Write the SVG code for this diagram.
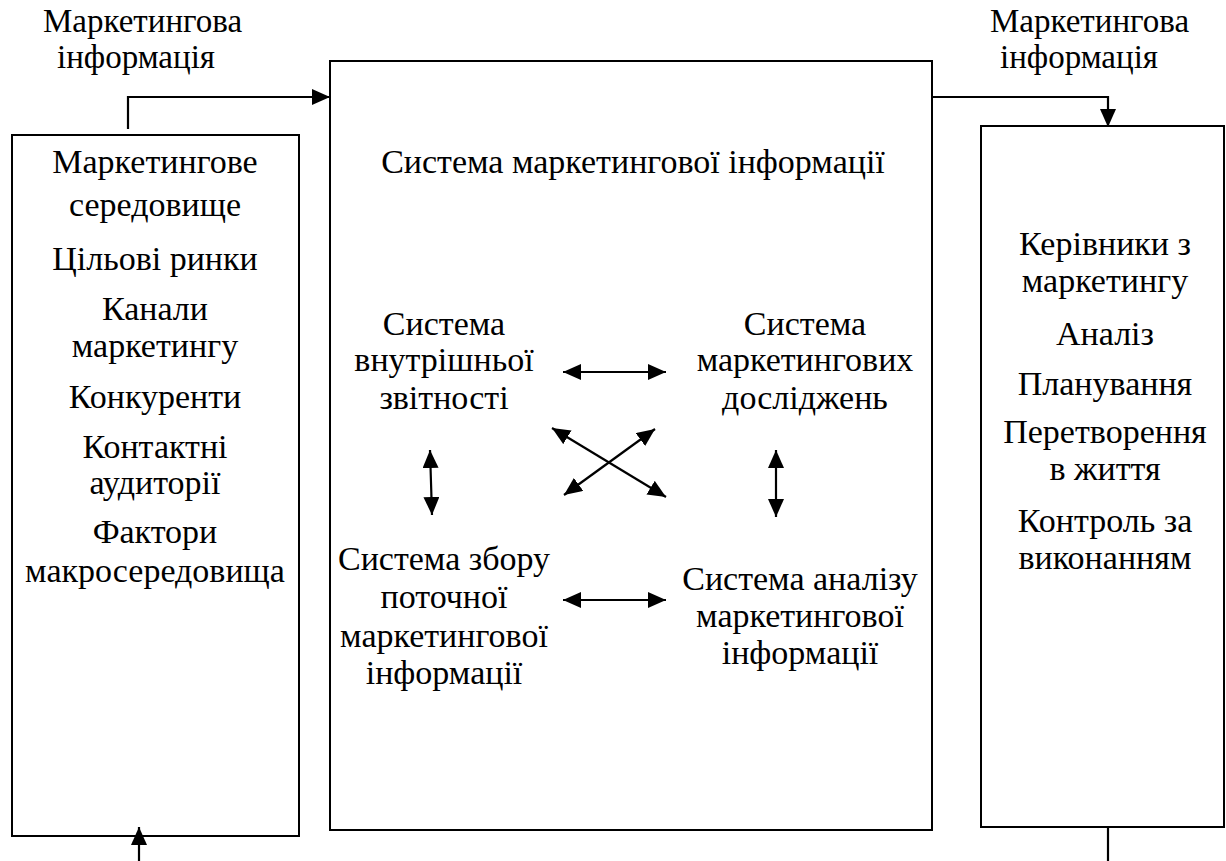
<svg xmlns="http://www.w3.org/2000/svg" width="1226" height="861" viewBox="0 0 1226 861">
<defs>
<marker id="ah" viewBox="0 0 18 16" refX="18" refY="8" markerWidth="18" markerHeight="16" markerUnits="userSpaceOnUse" orient="auto-start-reverse">
<path d="M0,0 L18,8 L0,16 Z" fill="#000"/>
</marker>
</defs>
<rect width="1226" height="861" fill="#fff"/>

<g id="label-left">
<text style="font-family:'Liberation Serif',serif" font-size="33" x="43" y="32">Маркетингова</text>
<text style="font-family:'Liberation Serif',serif" font-size="33" x="57" y="68">інформація</text>
</g>
<g id="label-right">
<text style="font-family:'Liberation Serif',serif" font-size="33" x="990" y="32">Маркетингова</text>
<text style="font-family:'Liberation Serif',serif" font-size="33" x="1000" y="68">інформація</text>
</g>

<g id="environment">
<rect x="12" y="135" width="287" height="701" fill="none" stroke="#000" stroke-width="2"/>
<text style="font-family:'Liberation Serif',serif" font-size="34" text-anchor="middle" x="155" y="173">Маркетингове</text>
<text style="font-family:'Liberation Serif',serif" font-size="34" text-anchor="middle" x="155" y="216">середовище</text>
<text style="font-family:'Liberation Serif',serif" font-size="34" text-anchor="middle" x="155" y="270">Цільові ринки</text>
<text style="font-family:'Liberation Serif',serif" font-size="34" text-anchor="middle" x="155" y="320">Канали</text>
<text style="font-family:'Liberation Serif',serif" font-size="34" text-anchor="middle" x="155" y="357">маркетингу</text>
<text style="font-family:'Liberation Serif',serif" font-size="34" text-anchor="middle" x="155" y="408">Конкуренти</text>
<text style="font-family:'Liberation Serif',serif" font-size="34" text-anchor="middle" x="155" y="458">Контактні</text>
<text style="font-family:'Liberation Serif',serif" font-size="34" text-anchor="middle" x="155" y="494">аудиторії</text>
<text style="font-family:'Liberation Serif',serif" font-size="34" text-anchor="middle" x="155" y="543">Фактори</text>
<text style="font-family:'Liberation Serif',serif" font-size="34" text-anchor="middle" x="155" y="582">макросередовища</text>
</g>

<g id="mis">
<rect x="330" y="61" width="602" height="769" fill="none" stroke="#000" stroke-width="2"/>
<text style="font-family:'Liberation Serif',serif" font-size="34" text-anchor="middle" x="633" y="173">Система маркетингової інформації</text>
</g>

<g id="internal">
<text style="font-family:'Liberation Serif',serif" font-size="34" text-anchor="middle" x="444" y="335">Система</text>
<text style="font-family:'Liberation Serif',serif" font-size="34" text-anchor="middle" x="444" y="371">внутрішньої</text>
<text style="font-family:'Liberation Serif',serif" font-size="34" text-anchor="middle" x="444" y="409">звітності</text>
</g>
<g id="research">
<text style="font-family:'Liberation Serif',serif" font-size="34" text-anchor="middle" x="805" y="335">Система</text>
<text style="font-family:'Liberation Serif',serif" font-size="34" text-anchor="middle" x="805" y="371">маркетингових</text>
<text style="font-family:'Liberation Serif',serif" font-size="34" text-anchor="middle" x="805" y="409">досліджень</text>
</g>
<g id="collection">
<text style="font-family:'Liberation Serif',serif" font-size="34" text-anchor="middle" x="444" y="570">Система збору</text>
<text style="font-family:'Liberation Serif',serif" font-size="34" text-anchor="middle" x="444" y="608">поточної</text>
<text style="font-family:'Liberation Serif',serif" font-size="34" text-anchor="middle" x="444" y="647">маркетингової</text>
<text style="font-family:'Liberation Serif',serif" font-size="34" text-anchor="middle" x="444" y="684">інформації</text>
</g>
<g id="analysis">
<text style="font-family:'Liberation Serif',serif" font-size="34" text-anchor="middle" x="800" y="590">Система аналізу</text>
<text style="font-family:'Liberation Serif',serif" font-size="34" text-anchor="middle" x="800" y="627">маркетингової</text>
<text style="font-family:'Liberation Serif',serif" font-size="34" text-anchor="middle" x="800" y="664">інформації</text>
</g>

<g id="managers">
<path d="M1224,126 H981 V827 H1224 Z" fill="none" stroke="#000" stroke-width="2"/>
<text style="font-family:'Liberation Serif',serif" font-size="34" text-anchor="middle" x="1105" y="255">Керівники з</text>
<text style="font-family:'Liberation Serif',serif" font-size="34" text-anchor="middle" x="1105" y="292">маркетингу</text>
<text style="font-family:'Liberation Serif',serif" font-size="34" text-anchor="middle" x="1105" y="345">Аналіз</text>
<text style="font-family:'Liberation Serif',serif" font-size="34" text-anchor="middle" x="1105" y="395">Планування</text>
<text style="font-family:'Liberation Serif',serif" font-size="34" text-anchor="middle" x="1105" y="443">Перетворення</text>
<text style="font-family:'Liberation Serif',serif" font-size="34" text-anchor="middle" x="1105" y="480">в життя</text>
<text style="font-family:'Liberation Serif',serif" font-size="34" text-anchor="middle" x="1105" y="532">Контроль за</text>
<text style="font-family:'Liberation Serif',serif" font-size="34" text-anchor="middle" x="1105" y="569">виконанням</text>
</g>

<g id="connectors" fill="none" stroke="#000" stroke-width="2.2">
<path d="M128,129 V97 H330" marker-end="url(#ah)"/>
<path d="M932,97 H1108 V127" marker-end="url(#ah)"/>
<path d="M139,861 V827" marker-end="url(#ah)"/>
<path d="M1108,827 V861"/>
<path d="M563,372 H666" marker-start="url(#ah)" marker-end="url(#ah)"/>
<path d="M563,600 H666" marker-start="url(#ah)" marker-end="url(#ah)"/>
<path d="M430,450 L432,515" marker-start="url(#ah)" marker-end="url(#ah)"/>
<path d="M776,450 V517" marker-start="url(#ah)" marker-end="url(#ah)"/>
<path d="M552,428 L666,497" marker-start="url(#ah)" marker-end="url(#ah)"/>
<path d="M564,495 L655,429" marker-start="url(#ah)" marker-end="url(#ah)"/>
</g>
</svg>
